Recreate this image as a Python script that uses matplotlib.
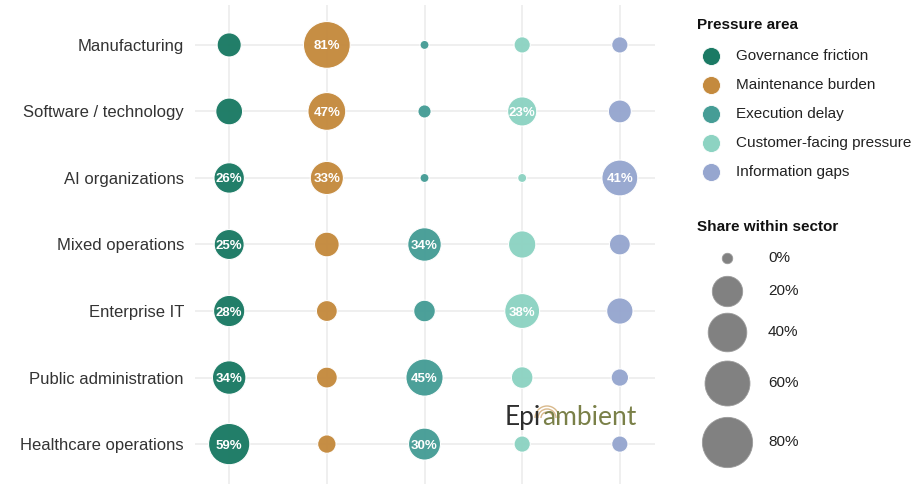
import numpy as np
import matplotlib.pyplot as plt
from matplotlib.patches import Arc

plt.rcParams['font.family'] = ['Liberation Sans', 'DejaVu Sans']

# Данные
sectors = ['Manufacturing', 'Software / technology', 'AI organizations', 'Mixed operations',
           'Enterprise IT', 'Public administration', 'Healthcare operations']
areas = ['Governance friction', 'Maintenance burden', 'Execution delay',
         'Customer-facing pressure', 'Information gaps']
colors = ['#1b7a64', '#c48a3e', '#469d96', '#8dd3c2', '#96a6cf']

governance = [13, 18, 26, 25, 28, 34, 59]
maintenance = [81, 47, 33, 14, 8, 8, 5]
execution = [0, 1, 0, 34, 9, 45, 30]
customer = [3, 23, 0, 19, 38, 9, 3]
information = [3, 11, 41, 8, 17, 4, 3]

size_breaks = [0, 20, 40, 60, 80]

values = [governance, maintenance, execution, customer, information]


def diam_px(v):
    return 9 + 42 * np.sqrt(np.asarray(v) / 100.0)


def pt2(d):
    return (np.asarray(d) * 0.72) ** 2


W, H = 913, 484
fig = plt.figure(figsize=(W / 100, H / 100), dpi=100)
ax = fig.add_axes([195 / W, 0, 460 / W, 479 / H])

ny = len(sectors)
ypos = np.arange(ny, 0, -1)
for i, (vals, c) in enumerate(zip(values, colors)):
    x = np.full(ny, i + 1)
    ax.scatter(x, ypos, s=pt2(diam_px(vals)), color=c, alpha=0.97,
               edgecolors='white', linewidths=0.8, zorder=3)
    for xx, yy, v in zip(x, ypos, vals):
        if v >= 20:
            ax.text(xx, yy, f'{v}%', ha='center', va='center_baseline', color='white',
                    fontsize=9.5, fontweight='bold', zorder=4)

ax.set_xlim(0.65, 5.36)
ax.set_ylim(0.4, ny + 0.6)
ax.set_xticks(np.arange(1, 6))
ax.set_xticklabels([])
ax.set_yticks(ypos)
ax.set_yticklabels(sectors, fontsize=12, color='#333333')
ax.tick_params(length=0, pad=8)
ax.grid(color='#ebebeb', linewidth=1.1, zorder=0)
ax.set_axisbelow(True)
for s in ax.spines.values():
    s.set_visible(False)

# Легенда и логотип в пиксельных координатах
ov = fig.add_axes([0, 0, 1, 1], zorder=5)
ov.set_xlim(0, W)
ov.set_ylim(H, 0)
ov.axis('off')

ov.text(697, 25, 'Pressure area', fontsize=11, fontweight='bold', va='center', color='#111111')
for k, (name, c) in enumerate(zip(areas, colors)):
    yy = 56 + k * 29
    ov.scatter(711, yy, s=pt2(18), color=c, edgecolors='white', linewidths=0.6)
    ov.text(736, yy, name, fontsize=11, va='center', color='#222222')

ov.text(697, 227, 'Share within sector', fontsize=11, fontweight='bold', va='center', color='#111111')
leg_y = [258, 291, 332, 383, 442]
for b, yy in zip(size_breaks, leg_y):
    d = 10.5 + 44.5 * np.sqrt(b / 100.0)
    ov.scatter(727, yy, s=pt2(d), color='#7a7a7a', alpha=0.95,
               edgecolors='#9a9a9a', linewidths=0.6)
    ov.text(768, yy, f'{b}%', fontsize=11, va='center', color='#222222')

# Логотип
t1 = ov.text(505, 425, 'Epi', fontsize=19, color='#2e2e2e', family=['Lato', 'DejaVu Sans'],
             va='baseline', ha='left', zorder=6)
fig.canvas.draw()
bb = t1.get_window_extent()
ov.text(bb.x1 + 0.5, 425, 'ambient', fontsize=19, color='#7a8048', family=['Lato', 'DejaVu Sans'],
        va='baseline', ha='left', zorder=6)
for r in [6, 9, 12]:
    ov.add_patch(Arc((547, 418), 2 * r, 2 * r, theta1=180, theta2=360,
                     color='#d9b98c', lw=1.0, zorder=5))

fig.savefig('out.png', dpi=100)
